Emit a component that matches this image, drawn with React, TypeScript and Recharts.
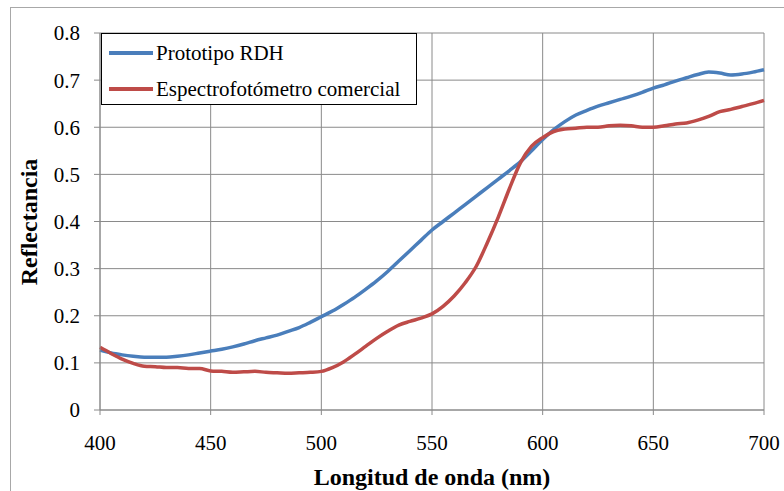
import React from 'react';
import { LineChart, Line, XAxis, YAxis, CartesianGrid, Legend, Label } from 'recharts';

const wavelengths = [400,405,410,415,420,425,430,435,440,445,450,455,460,465,470,475,480,485,490,495,500,505,510,515,520,525,530,535,540,545,550,555,560,565,570,575,580,585,590,595,600,605,610,615,620,625,630,635,640,645,650,655,660,665,670,675,680,685,690,695,700];
const prototipo = [0.127,0.121,0.117,0.114,0.112,0.112,0.112,0.114,0.117,0.121,0.125,0.129,0.134,0.140,0.147,0.153,0.159,0.167,0.175,0.186,0.198,0.21,0.224,0.239,0.256,0.274,0.294,0.316,0.338,0.36,0.382,0.40,0.418,0.436,0.454,0.472,0.49,0.508,0.527,0.55,0.574,0.595,0.612,0.626,0.636,0.645,0.652,0.659,0.666,0.674,0.683,0.69,0.698,0.705,0.712,0.717,0.715,0.711,0.713,0.717,0.722];
const comercial = [0.133,0.12,0.108,0.099,0.093,0.092,0.09,0.09,0.088,0.088,0.083,0.082,0.08,0.081,0.082,0.08,0.079,0.078,0.079,0.08,0.082,0.09,0.102,0.118,0.135,0.152,0.167,0.18,0.188,0.195,0.204,0.22,0.242,0.27,0.305,0.355,0.41,0.47,0.525,0.56,0.578,0.591,0.596,0.598,0.6,0.6,0.603,0.604,0.603,0.6,0.6,0.603,0.607,0.609,0.615,0.623,0.633,0.638,0.644,0.65,0.657];
const xTicks = [400,450,500,550,600,650,700];
const yTicks = [0,0.1,0.2,0.3,0.4,0.5,0.6,0.7,0.8];
const seriesNames = ['Prototipo RDH', 'Espectrofotómetro comercial'];
const seriesColors = ['#4A7EBB', '#BE4B48'];

const data = wavelengths.map((w, i) => ({ w, a: prototipo[i], b: comercial[i] }));

const FONT = '"Liberation Serif", "Times New Roman", serif';

const LegendBox = (props: any) => {
  const items = [...(props.payload || [])].sort(
    (p: any, q: any) => seriesNames.indexOf(p.value) - seriesNames.indexOf(q.value)
  );
  return (
    <div style={{ border: '1px solid #000', background: '#fff', width: 314, height: 70, boxSizing: 'content-box', fontFamily: FONT, fontSize: 21, color: '#000', position: 'relative' }}>
      {items.map((it: any, i: number) => (
        <div key={i} style={{ position: 'absolute', left: 7, top: i === 0 ? 6 : 42, height: 26, display: 'flex', alignItems: 'center', whiteSpace: 'nowrap' }}>
          <span style={{ display: 'inline-block', width: 44, height: 3.5, background: it.color, marginRight: 3 }} />
          <span>{it.value}</span>
        </div>
      ))}
    </div>
  );
};

export default function App() {
  return (
    <div style={{ position: 'absolute', left: 0, top: 0, width: 784, height: 491, background: '#fff', overflow: 'hidden' }}>
      <div style={{ position: 'absolute', left: 10, top: 7, width: 800, height: 500, borderLeft: '1px solid #a8a8a8', borderTop: '1px solid #a8a8a8' }} />
      <LineChart width={784} height={491} data={data} margin={{ top: 33, right: 20, left: 0, bottom: 0 }} style={{ position: 'absolute', left: 0, top: 0 }}>
        <CartesianGrid stroke="#8a8a8a" strokeWidth={1} horizontalValues={yTicks} verticalValues={xTicks} />
        <XAxis dataKey="w" type="number" domain={[400, 700]} ticks={xTicks} height={81} tickSize={5} tickMargin={20}
          stroke="#8a8a8a" tick={{ fill: '#000', fontFamily: FONT, fontSize: 21 }} interval={0}>
          <Label value="Longitud de onda (nm)" position="insideBottom" offset={6} style={{ fontFamily: FONT, fontSize: 24, fontWeight: 'bold', fill: '#000' }} />
        </XAxis>
        <YAxis type="number" domain={[0, 0.8]} ticks={yTicks} width={100} tickSize={6} tickMargin={14}
          stroke="#8a8a8a" tick={{ fill: '#000', fontFamily: FONT, fontSize: 21 }} interval={0}
          tickFormatter={(v: number) => (v === 0 ? '0' : String(Math.round(v * 10) / 10))}>
          <Label content={() => (
            <text x={37} y={222} transform="rotate(-90 37 222)" textAnchor="middle" style={{ fontFamily: FONT, fontSize: 24, fontWeight: 'bold', fill: '#000' }}>Reflectancia</text>
          )} />
        </YAxis>
        <Legend content={<LegendBox />} wrapperStyle={{ position: 'absolute', left: 101, top: 33, width: 0, height: 0, overflow: 'visible' }} />
        <Line type="monotone" dataKey="a" name={seriesNames[0]} stroke={seriesColors[0]} strokeWidth={3.5} dot={false} isAnimationActive={false} />
        <Line type="monotone" dataKey="b" name={seriesNames[1]} stroke={seriesColors[1]} strokeWidth={3.5} dot={false} isAnimationActive={false} />
      </LineChart>
    </div>
  );
}
